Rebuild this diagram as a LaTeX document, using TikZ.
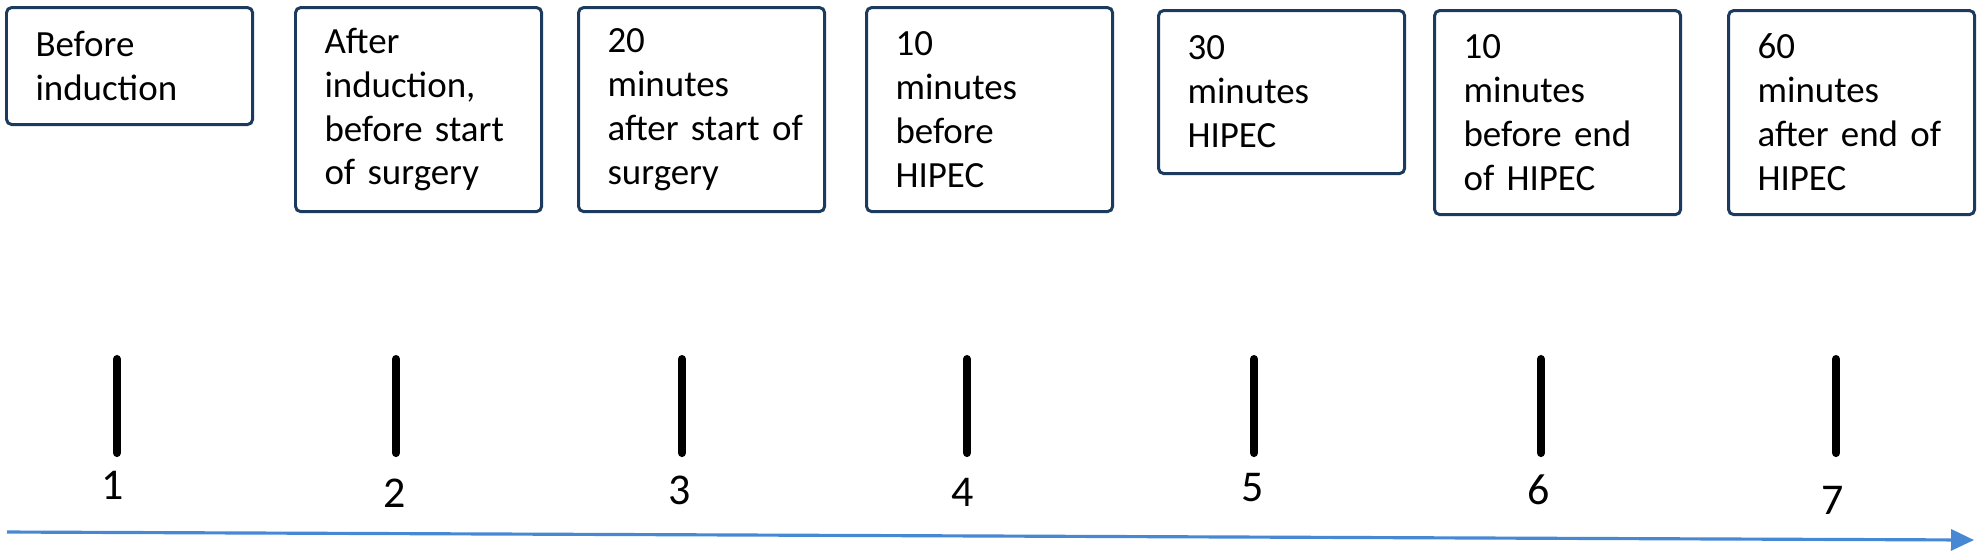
\documentclass[tikz,border=0pt]{standalone}
\usepackage{fontspec}
\setmainfont{Carlito}
\usetikzlibrary{arrows.meta}
\definecolor{boxnavy}{RGB}{28,58,94}
\definecolor{lineblue}{RGB}{70,136,212}

\begin{document}
\begin{tikzpicture}[
  x=0.01cm, y=-0.01cm,
  every node/.style={font=\fontsize{10.5pt}{12.5pt}\selectfont},
  stage/.style={rectangle, draw=boxnavy, line width=0.85pt, rounded corners=1.5pt, anchor=north west, align=left, text width=1.88cm, inner xsep=0.29cm, inner ysep=0pt},
  stagetall/.style={stage, minimum height=2.04cm},
  tick/.style={line width=2.3pt, line cap=round},
  num/.style={font=\fontsize{12.5pt}{14pt}\selectfont, inner sep=0pt},
  timeline/.style={draw=lineblue, line width=0.9pt},
  >={Triangle[length=0.23cm, width=0.21cm]}
]
\useasboundingbox (0,0) rectangle (1980,556);

% boxes with the time points
\node[stage, minimum height=1.17cm] (before) at (5,6) {Before\\induction};
\node[stagetall] (afterind) at (294,6) {After\\induction,\\before~start\\of~surgery};
\node[stagetall] (startsurg) at (577,6) {20\\minutes\\after~start~of\\surgery};
\node[stagetall] (prehipec) at (865,6) {10\\minutes\\before\\HIPEC};
\node[stage, minimum height=1.63cm] (midhipec) at (1157,9) {30\\minutes\\HIPEC};
\node[stagetall] (endhipec) at (1433,9) {10\\minutes\\before~end\\of~HIPEC};
\node[stagetall] (posthipec) at (1727,9) {60\\minutes\\after~end~of\\HIPEC};

% tick marks
\draw[tick] (117,359) -- (117,453);
\draw[tick] (396,359) -- (396,453);
\draw[tick] (682,359) -- (682,453);
\draw[tick] (967,359) -- (967,453);
\draw[tick] (1254,359) -- (1254,453);
\draw[tick] (1541,359) -- (1541,453);
\draw[tick] (1836,359) -- (1836,453);

% numbers
\node[num] (n1) at (113,485) {1};
\node[num] (n2) at (395,493) {2};
\node[num] (n3) at (680,490) {3};
\node[num] (n4) at (963,492) {4};
\node[num] (n5) at (1253,488) {5};
\node[num] (n6) at (1539,490) {6};
\node[num] (n7) at (1833,500) {7};

% time axis
\coordinate (tstart) at (7,532);
\coordinate (tend) at (1974,540);
\draw[timeline, ->, lineblue] (tstart) -- (tend);

\end{tikzpicture}
\end{document}
